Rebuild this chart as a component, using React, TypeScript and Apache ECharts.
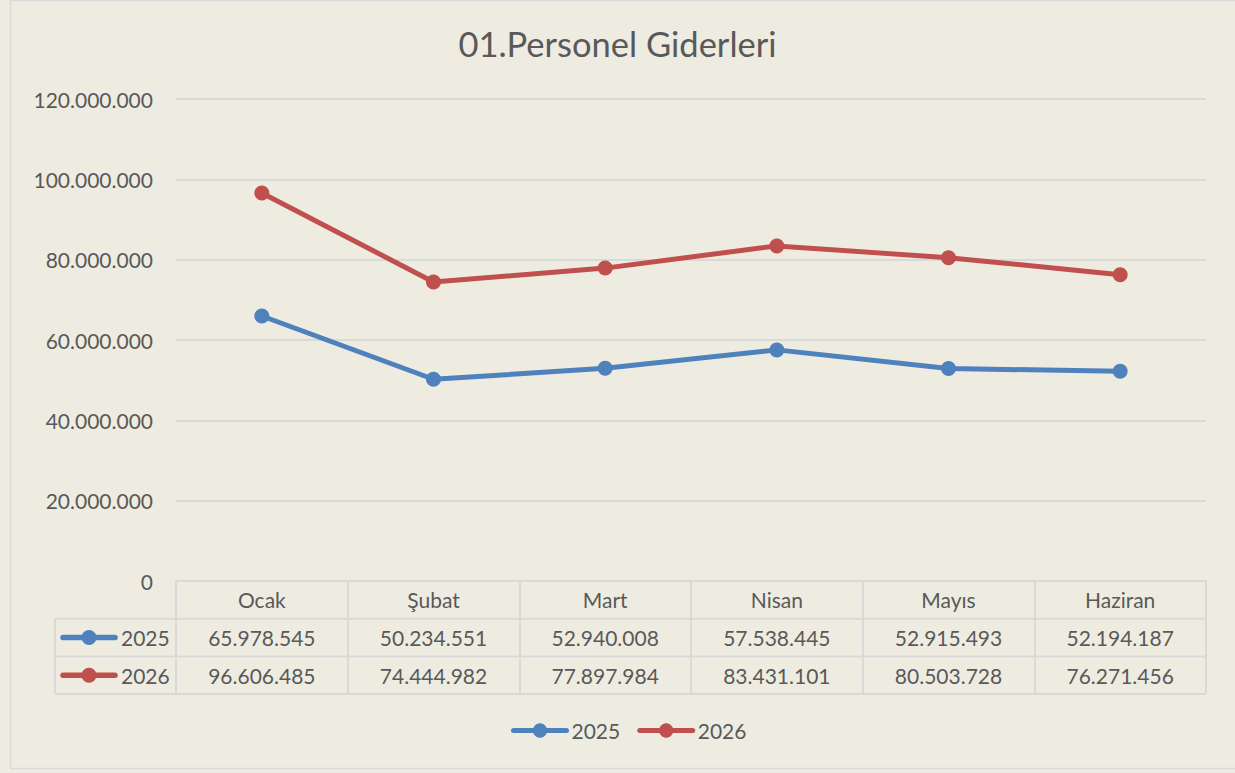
import React, { useEffect, useRef } from "react";
import * as echarts from "echarts";

const title = "01.Personel Giderleri";
const categories = ["Ocak", "Şubat", "Mart", "Nisan", "Mayıs", "Haziran"];
const seriesNames = ["2025", "2026"];
const values2025 = [65978545, 50234551, 52940008, 57538445, 52915493, 52194187];
const values2026 = [96606485, 74444982, 77897984, 83431101, 80503728, 76271456];
const yMin = 0;
const yMax = 120000000;
const yInterval = 20000000;
const colors = ["#4f81bd", "#c0504d"];

const FONT = "Lato, 'Noto Sans', sans-serif";
const TEXT = "#595959";
const GRIDC = "#d9d9d9";
const BG = "#eeece1";
const FS = 21;

const fmt = (v: number) =>
  Math.round(v).toString().replace(/\B(?=(\d{3})+(?!\d))/g, ".");

export default function App() {
  const ref = useRef<HTMLDivElement>(null);
  useEffect(() => {
    if (!ref.current) return;
    const chart = echarts.init(ref.current, null, { renderer: "svg" });
    const allValues = [values2025, values2026];
    chart.setOption({
      animation: false,
      backgroundColor: BG,
      title: {
        text: title,
        left: "center",
        top: 21,
        textStyle: { fontFamily: FONT, fontSize: 34.5, fontWeight: "normal", color: TEXT },
      },
      grid: { left: 176, right: 29, top: 99, bottom: 192 },
      legend: {
        bottom: 32,
        left: 511,
        padding: 0,
        itemWidth: 53,
        itemHeight: 18,
        itemGap: 17,
        data: seriesNames,
        lineStyle: { width: 5, cap: "round" },
        textStyle: { fontFamily: FONT, fontSize: FS, color: TEXT },
      },
      xAxis: {
        type: "category",
        data: categories,
        boundaryGap: true,
        axisLine: { lineStyle: { color: GRIDC, width: 2 } },
        axisTick: { show: true, interval: 0, length: 113, lineStyle: { color: GRIDC, width: 2 } },
        axisLabel: { interval: 0, margin: 8, fontFamily: FONT, fontSize: FS, color: TEXT },
        splitLine: { show: false },
      },
      yAxis: {
        type: "value",
        min: yMin,
        max: yMax,
        interval: yInterval,
        axisLine: { show: false },
        axisTick: { show: false },
        axisLabel: { formatter: (v: number) => fmt(v), margin: 23, fontFamily: FONT, fontSize: FS, color: TEXT },
        splitLine: { lineStyle: { color: GRIDC, width: 2 } },
      },
      series: seriesNames.map((n, k) => ({
        name: n,
        type: "line",
        data: allValues[k],
        symbol: "circle",
        symbolSize: 15,
        color: colors[k],
        lineStyle: { width: 5, color: colors[k] },
        itemStyle: { color: colors[k] },
      })),
    });

    const xs = categories.map((_, i) => chart.convertToPixel({ xAxisIndex: 0 }, i) as number);
    const cellW = xs.length > 1 ? xs[1] - xs[0] : 170;
    const right = xs[xs.length - 1] + cellW / 2;
    const axisY = chart.convertToPixel({ yAxisIndex: 0 }, 0) as number;
    const rowH = 37.7;
    const legL = 55;
    const graphics: any[] = [];
    graphics.push({
      type: "rect",
      silent: true,
      z: -1,
      shape: { x: 10.5, y: 0.5, width: 1300, height: 768 },
      style: { fill: "none", stroke: GRIDC, lineWidth: 1.5 },
    });
    for (let r = 1; r <= 3; r++) {
      const y = axisY + rowH * r;
      graphics.push({
        type: "line",
        silent: true,
        shape: { x1: legL, y1: y, x2: right, y2: y },
        style: { stroke: GRIDC, lineWidth: 2 },
      });
    }
    graphics.push({
      type: "line",
      silent: true,
      shape: { x1: legL, y1: axisY + rowH, x2: legL, y2: axisY + rowH * 3 },
      style: { stroke: GRIDC, lineWidth: 2 },
    });
    seriesNames.forEach((n, k) => {
      const cy = axisY + rowH * (k + 1) + rowH / 2;
      graphics.push({
        type: "line",
        silent: true,
        shape: { x1: 63, y1: cy, x2: 115, y2: cy },
        style: { stroke: colors[k], lineWidth: 5.5, lineCap: "round" },
      });
      graphics.push({
        type: "circle",
        silent: true,
        shape: { cx: 89, cy, r: 7.5 },
        style: { fill: colors[k] },
      });
      graphics.push({
        type: "text",
        silent: true,
        x: 121,
        y: cy,
        style: { text: n, fontFamily: FONT, fontSize: FS, fill: TEXT, verticalAlign: "middle", align: "left" },
      });
      allValues[k].forEach((v, i) => {
        graphics.push({
          type: "text",
          silent: true,
          x: xs[i],
          y: cy,
          style: { text: fmt(v), fontFamily: FONT, fontSize: FS, fill: TEXT, verticalAlign: "middle", align: "center" },
        });
      });
    });
    chart.setOption({ graphic: graphics });
    return () => chart.dispose();
  }, []);
  return (
    <div
      ref={ref}
      style={{ position: "fixed", left: 0, top: 0, width: 1235, height: 773 }}
    />
  );
}
